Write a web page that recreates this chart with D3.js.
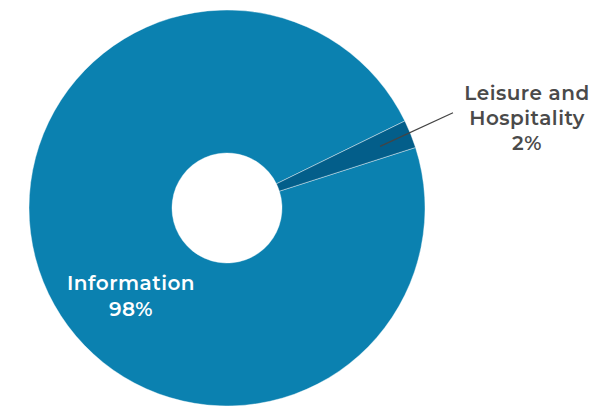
<!DOCTYPE html>
<html><head><meta charset="utf-8">
<script src="https://cdn.jsdelivr.net/npm/d3@7"></script>
<style>body{margin:0;background:#fff}svg{display:block}</style>
</head><body>
<svg id="c" width="589" height="406"></svg>
<script>
const categories = ["Information", "Leisure and Hospitality"];
const values = [97.7, 2.3];
const labels = ["98%", "2%"];
const colors = ["#0b81b0", "#035e8a"];

const svg = d3.select("#c");
const cx = 227, cy = 208, rOuter = 198, rInner = 55;
const startDeg = 72.2;
const pie = d3.pie().sort(null)
  .startAngle(startDeg * Math.PI / 180)
  .endAngle(startDeg * Math.PI / 180 + 2 * Math.PI);
const arcs = pie(values);
const arc = d3.arc().innerRadius(rInner).outerRadius(rOuter);
const g = svg.append("g").attr("transform", `translate(${cx},${cy})`);
g.selectAll("path").data(arcs).join("path")
  .attr("d", arc)
  .attr("fill", (d, i) => colors[i])
  .attr("stroke", "#ffffff").attr("stroke-opacity", 0.5).attr("stroke-width", 0.8);

const font = "Montserrat, 'Open Sans', sans-serif";
const infoText = svg.append("text")
  .attr("text-anchor", "middle")
  .attr("fill", "#ffffff")
  .style("font-family", font).style("font-weight", 600).style("font-size", "20px")
  .style("letter-spacing", "0.5px");
infoText.append("tspan").attr("x", 131).attr("y", 290).text(categories[0]);
infoText.append("tspan").attr("x", 131).attr("y", 316).text(labels[0]);

const d1 = arcs[1];
const mid = (d1.startAngle + d1.endAngle) / 2;
const rl = 165;
const p0 = [cx + rl * Math.sin(mid), cy - rl * Math.cos(mid)];
svg.append("line")
  .attr("x1", p0[0]).attr("y1", p0[1])
  .attr("x2", 453).attr("y2", 112.7)
  .attr("stroke", "#444").attr("stroke-width", 1.2);
const lt = svg.append("text")
  .attr("text-anchor", "middle")
  .attr("fill", "#4a4a4a")
  .style("font-family", font).style("font-weight", 600).style("font-size", "20px")
  .style("letter-spacing", "0.5px");
lt.append("tspan").attr("x", 527).attr("y", 100).text("Leisure and");
lt.append("tspan").attr("x", 527).attr("y", 125).text("Hospitality");
lt.append("tspan").attr("x", 527).attr("y", 150).text(labels[1]);
</script>
</body></html>
